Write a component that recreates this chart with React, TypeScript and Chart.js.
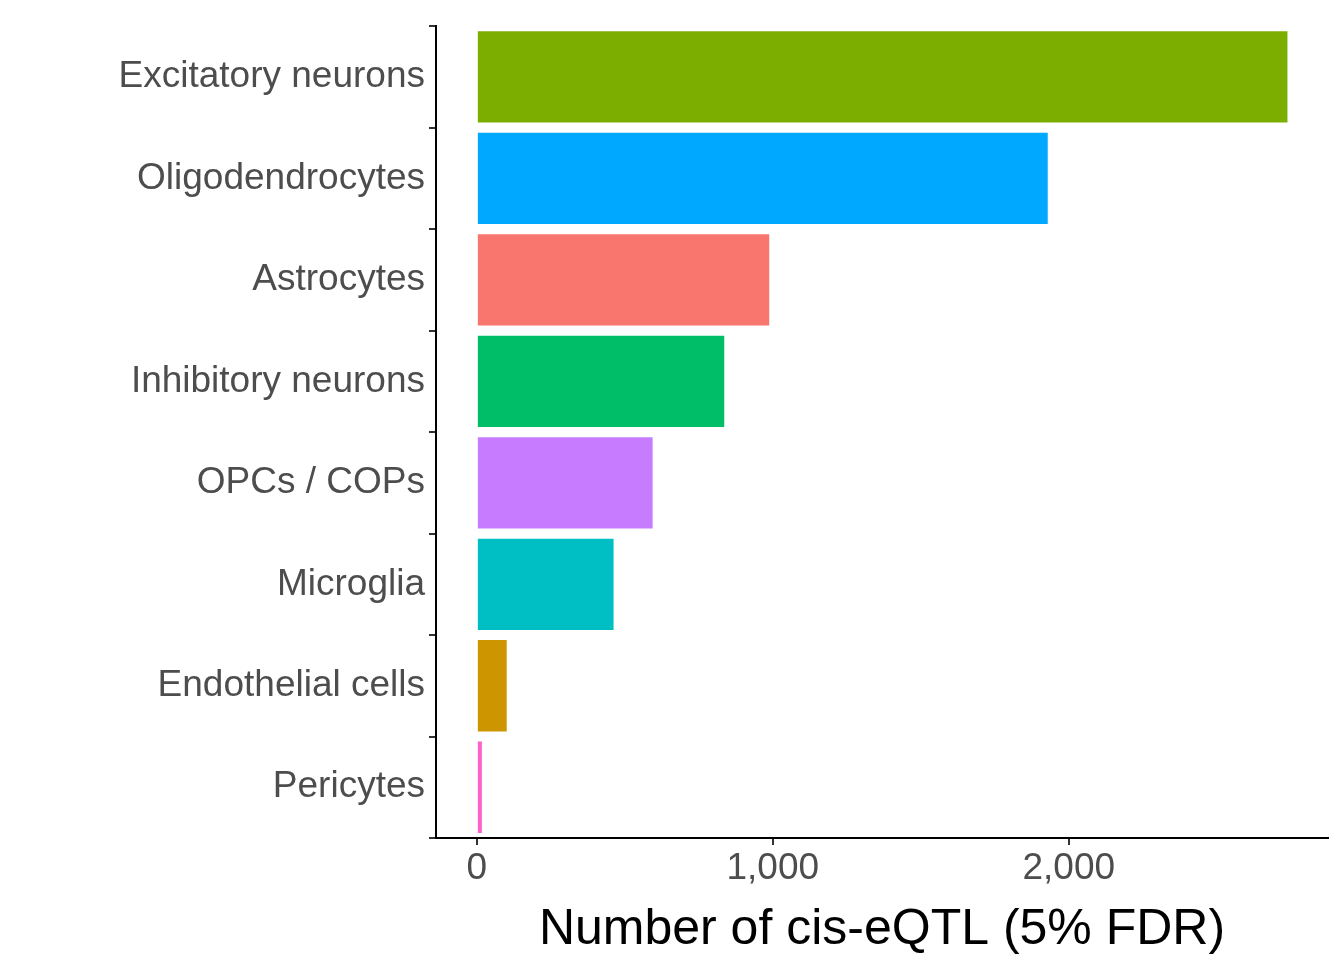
import { useEffect, useRef } from "react"
import { Chart, registerables } from "chart.js"

Chart.register(...registerables)

const cellTypes = [
  "Excitatory neurons",
  "Oligodendrocytes",
  "Astrocytes",
  "Inhibitory neurons",
  "OPCs / COPs",
  "Microglia",
  "Endothelial cells",
  "Pericytes",
]
const eqtlCounts = [2739, 1929, 988, 836, 594, 462, 101, 17]
const barColors = ["#7CAE00", "#00A9FF", "#F8766D", "#00BE67", "#C77CFF", "#00BFC4", "#CD9600", "#FF61CC"]
const xTicks = [0, 1000, 2000]

export default function App() {
  const chartRef = useRef<HTMLCanvasElement>(null)
  const chartInstance = useRef<Chart | null>(null)

  useEffect(() => {
    document.body.style.margin = "0"
    if (!chartRef.current) return
    if (chartInstance.current) chartInstance.current.destroy()
    const ctx = chartRef.current.getContext("2d")
    if (!ctx) return
    chartInstance.current = new Chart(ctx, {
      type: "bar",
      data: {
        labels: cellTypes,
        datasets: [
          {
            data: eqtlCounts,
            backgroundColor: barColors,
            barPercentage: 0.9,
            categoryPercentage: 1,
          },
        ],
      },
      options: {
        indexAxis: "y",
        animation: false,
        responsive: false,
        layout: { padding: { top: 15, right: 16, left: 0, bottom: 0 } },
        plugins: { legend: { display: false }, tooltip: { enabled: false } },
        scales: {
          x: {
            min: -138,
            max: 2876,
            afterBuildTicks: (scale: any) => {
              scale.ticks = xTicks.map((v) => ({ value: v }))
            },
            afterFit: (scale: any) => {
              scale.height = 122
            },
            grid: { display: true, drawOnChartArea: false, drawTicks: true, tickLength: 7, color: "#333333", lineWidth: 2 },
            border: { display: true, color: "#000000", width: 2 },
            ticks: {
              color: "#4d4d4d",
              font: { family: "Liberation Sans, Arial", size: 37 },
              padding: 2,
            },
            title: {
              display: true,
              text: "Number of cis-eQTL (5% FDR)",
              color: "#000000",
              font: { family: "Liberation Sans, Arial", size: 50 },
              padding: { top: 0, bottom: 0 },
            },
          },
          y: {
            afterFit: (scale: any) => {
              scale.width = 436
            },
            grid: { display: true, drawOnChartArea: false, drawTicks: true, tickLength: 7, color: "#333333", lineWidth: 2 },
            border: { display: true, color: "#000000", width: 2 },
            ticks: {
              color: "#4d4d4d",
              font: { family: "Liberation Sans, Arial", size: 37 },
              padding: 4,
            },
          },
        },
      },
    })
    return () => {
      if (chartInstance.current) chartInstance.current.destroy()
    }
  }, [])

  return (
    <div style={{ width: 1344, height: 960, background: "#fff" }}>
      <canvas ref={chartRef} width={1344} height={960} />
    </div>
  )
}
